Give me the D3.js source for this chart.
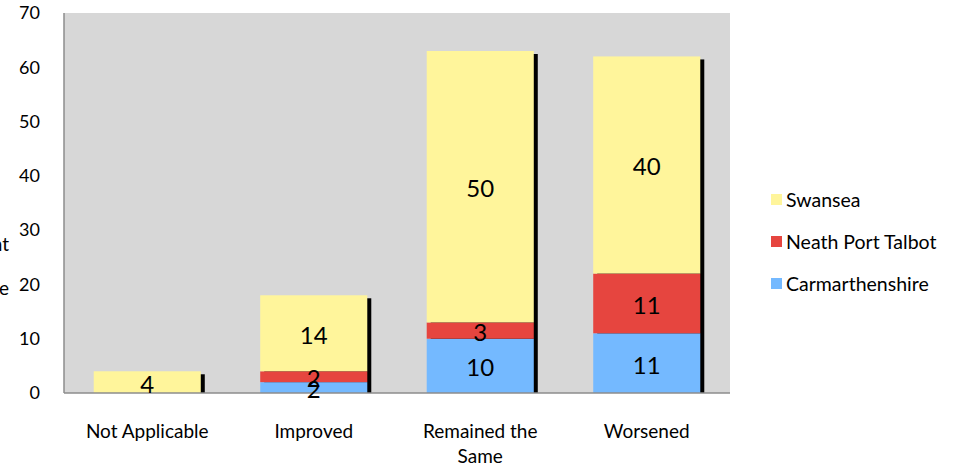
<!DOCTYPE html>
<html><head><meta charset="utf-8">
<script src="https://cdn.jsdelivr.net/npm/d3@7"></script>
<style>body{margin:0;background:#fff}text{font-family:Lato,"Open Sans",sans-serif;fill:#000}</style>
</head><body>
<svg id="c" width="956" height="468"></svg>
<script>
const categories = ["Not Applicable", "Improved", "Remained the Same", "Worsened"];
const categoryLines = [["Not Applicable"], ["Improved"], ["Remained the", "Same"], ["Worsened"]];
const seriesNames = ["Carmarthenshire", "Neath Port Talbot", "Swansea"];
const carmarthenshire = [0, 2, 10, 11];
const neathPortTalbot = [0, 2, 3, 11];
const swansea = [4, 14, 50, 40];
const yTicks = [0, 10, 20, 30, 40, 50, 60, 70];
const colors = {"Carmarthenshire": "#74b9ff", "Neath Port Talbot": "#e6453f", "Swansea": "#fff59b"};

const svg = d3.select("#c");
const m = {l: 64, r: 730, t: 13, b: 393};
const x = d3.scaleBand().domain(categories).range([m.l, m.r]).paddingInner(0.357).paddingOuter(0.1785);
const y = d3.scaleLinear().domain([0, 70]).range([m.b, m.t]);

const rows = categories.map((c, i) => ({cat: c, "Carmarthenshire": carmarthenshire[i], "Neath Port Talbot": neathPortTalbot[i], "Swansea": swansea[i]}));
const stack = d3.stack().keys(seriesNames)(rows);

svg.append("rect").attr("x", m.l).attr("y", m.t).attr("width", m.r - m.l).attr("height", m.b - m.t).attr("fill", "#d7d7d7");
svg.append("defs").append("clipPath").attr("id", "pc").append("rect").attr("x", m.l).attr("y", m.t).attr("width", m.r - m.l).attr("height", m.b - m.t);

// shadows
const totals = rows.map(r => seriesNames.reduce((s, k) => s + r[k], 0));
svg.append("g").attr("clip-path", "url(#pc)").selectAll("rect").data(rows).join("rect")
  .attr("x", (d) => x(d.cat) + 4).attr("y", (d, i) => y(totals[i]) + 3)
  .attr("width", x.bandwidth()).attr("height", (d, i) => m.b - y(totals[i]) + 5)
  .attr("fill", "#000");

stack.forEach(s => {
  svg.append("g").selectAll("rect").data(s).join("rect")
    .attr("x", d => x(d.data.cat)).attr("width", x.bandwidth())
    .attr("y", d => y(d[1])).attr("height", d => y(d[0]) - y(d[1]))
    .attr("fill", colors[s.key]);
});

// axes lines
svg.append("line").attr("x1", m.l).attr("x2", m.l).attr("y1", m.t).attr("y2", m.b).attr("stroke", "#8c8c8c").attr("stroke-width", 1.5);
svg.append("line").attr("x1", m.l).attr("x2", m.r).attr("y1", m.b).attr("y2", m.b).attr("stroke", "#8c8c8c").attr("stroke-width", 1.5);

// data labels
stack.forEach(s => {
  svg.append("g").selectAll("text").data(s.filter(d => d[1] - d[0] > 0)).join("text")
    .attr("x", d => x(d.data.cat) + x.bandwidth() / 2)
    .attr("y", d => (y(d[0]) + y(d[1])) / 2 + 2)
    .attr("dy", "0.35em").attr("text-anchor", "middle").attr("font-size", 24)
    .text(d => d[1] - d[0]);
});

// y ticks
svg.append("g").selectAll("text").data(yTicks).join("text")
  .attr("x", 40).attr("y", d => y(d)).attr("dy", "0.35em").attr("text-anchor", "end").attr("font-size", 18)
  .text(d => d);

// y axis title (cut off at the left edge, as in the reference)
svg.append("text").attr("x", 9).attr("y", 244).attr("dy", "0.35em").attr("text-anchor", "end").attr("font-size", 19).text("Percent");
svg.append("text").attr("x", 9).attr("y", 288).attr("dy", "0.35em").attr("text-anchor", "end").attr("font-size", 19).text("age");

// category labels
const cl = svg.append("g").selectAll("text").data(categories).join("text")
  .attr("x", d => x(d) + x.bandwidth() / 2).attr("y", 438).attr("text-anchor", "middle").attr("font-size", 19);
cl.each(function(d, i) {
  d3.select(this).selectAll("tspan").data(categoryLines[i]).join("tspan")
    .attr("x", x(d) + x.bandwidth() / 2).attr("dy", (t, j) => j === 0 ? 0 : 25).text(t => t);
});

// legend
const legendOrder = ["Swansea", "Neath Port Talbot", "Carmarthenshire"];
const lg = svg.append("g").selectAll("g").data(legendOrder).join("g")
  .attr("transform", (d, i) => `translate(771,${200 + i * 42})`);
lg.append("rect").attr("x", 0).attr("y", -6).attr("width", 11).attr("height", 11).attr("fill", d => colors[d]);
lg.append("text").attr("x", 15).attr("y", 0).attr("dy", "0.35em").attr("font-size", 19.5).text(d => d);
</script>
</body></html>
